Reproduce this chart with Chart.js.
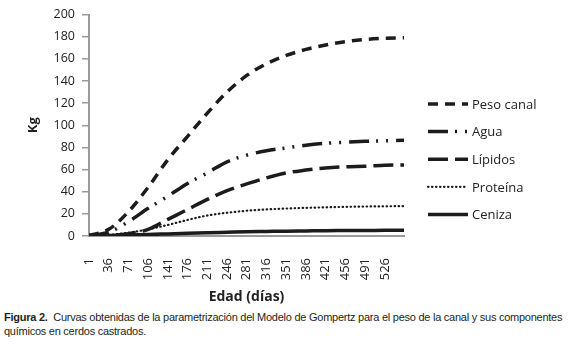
<!DOCTYPE html>
<html>
<head>
<meta charset="utf-8">
<script src="https://cdn.jsdelivr.net/npm/chart.js@4/dist/chart.umd.min.js"></script>
<style>
  body { margin: 0; background: #fff; width: 571px; height: 347px; overflow: hidden; }
  #wrap { position: relative; width: 571px; height: 310px; }
  .caption {
    font-family: "Liberation Sans Narrow", "Liberation Sans", sans-serif;
    font-size: 11px;
    letter-spacing: -0.25px;
    line-height: 14px;
    color: #231f20;
    padding-left: 4px;
    white-space: nowrap;
  }
</style>
</head>
<body>
<div id="wrap"><canvas id="chart"></canvas></div>
<div class="caption"><b>Figura 2.</b>&nbsp; Curvas obtenidas de la parametrización del Modelo de Gompertz para el peso de la canal y sus componentes<br>químicos en cerdos castrados.</div>
<script>
// edad en días y kg estimados por el modelo
const dias = [1, 36, 71, 106, 141, 176, 211, 246, 281, 316, 351, 386, 421, 456, 491, 526, 560];
const ticksDias = [1, 36, 71, 106, 141, 176, 211, 246, 281, 316, 351, 386, 421, 456, 491, 526];
const ticksKg = [0, 20, 40, 60, 80, 100, 120, 140, 160, 180, 200];

const pesoCanal = [0.5, 6, 22, 44, 69, 90, 111, 130, 145, 155.5, 163, 168.5, 172.5, 175.5, 177.5, 178.5, 179];
const agua = [0.3, 3.5, 13, 25, 36, 47.5, 57, 67, 73, 77, 79.5, 82, 83.7, 84.7, 85.5, 86, 86.5];
const lipidos = [0.1, 0.5, 2, 6, 15, 24, 33, 41, 47, 52.5, 57, 59.5, 61.5, 62.5, 63, 63.8, 64.2];
const proteina = [0.2, 1, 3, 6, 10, 14.5, 18.5, 21, 22.8, 24, 24.8, 25.4, 25.9, 26.3, 26.6, 26.8, 27];
const ceniza = [0.1, 0.4, 0.8, 1.3, 1.9, 2.5, 3, 3.4, 3.8, 4.1, 4.4, 4.6, 4.8, 4.9, 5, 5.1, 5.2];

const ink = '#1c1c1c';

function serie(label, values, width, dash, cap) {
    return {
        label: label,
        data: dias.map((d, i) => ({ x: d, y: values[i] })),
        borderColor: ink,
        borderWidth: width,
        borderDash: dash,
        borderCapStyle: cap || 'butt',
        pointRadius: 0,
        fill: false,
        cubicInterpolationMode: 'monotone'
    };
}

// leyenda a la derecha con la muestra de cada tipo de línea
const lineLegend = {
    id: 'lineLegend',
    afterDraw(chart) {
        const ctx = chart.ctx;
        ctx.save();
        chart.data.datasets.forEach((ds, i) => {
            const y = 104 + i * 27.6;
            ctx.beginPath();
            ctx.setLineDash(ds.borderDash || []);
            ctx.lineWidth = ds.borderWidth;
            ctx.lineCap = ds.borderCapStyle;
            ctx.strokeStyle = ds.borderColor;
            ctx.moveTo(428, y);
            ctx.lineTo(468, y);
            ctx.stroke();
            ctx.setLineDash([]);
            ctx.fillStyle = '#222';
            ctx.font = '13px "Open Sans"';
            ctx.textBaseline = 'middle';
            ctx.fillText(ds.label, 472, y + 1);
        });
        ctx.restore();
    }
};

new Chart(document.getElementById('chart'), {
    type: 'line',
    data: {
        datasets: [
            serie('Peso canal', pesoCanal, 3.5, [10, 7]),
            serie('Agua', agua, 3.5, [20, 7, 2, 8, 2, 8]),
            serie('Lípidos', lipidos, 3.5, [20, 7]),
            serie('Proteína', proteina, 2.2, [0.5, 3.5], 'round'),
            serie('Ceniza', ceniza, 3.5, [])
        ]
    },
    options: {
        responsive: true,
        maintainAspectRatio: false,
        animation: false,
        layout: { padding: { top: 14, right: 167, left: 0, bottom: 0 } },
        plugins: {
            legend: { display: false },
            tooltip: { enabled: false }
        },
        scales: {
            x: {
                type: 'linear',
                min: 1,
                max: 560,
                afterBuildTicks: s => { s.ticks = ticksDias.map(v => ({ value: v })); },
                afterFit: s => { s.height = 74; },
                grid: { display: false },
                border: { color: '#9a9a9a', width: 2 },
                ticks: {
                    autoSkip: false,
                    minRotation: 90,
                    maxRotation: 90,
                    padding: 14,
                    color: '#222',
                    font: { family: 'Open Sans', size: 13 }
                },
                title: {
                    display: true,
                    text: 'Edad (días)',
                    color: '#222',
                    font: { family: 'Open Sans', size: 14, weight: 'bold' },
                    padding: { top: 0, bottom: 4.6 }
                }
            },
            y: {
                min: 0,
                max: 200,
                afterBuildTicks: s => { s.ticks = ticksKg.map(v => ({ value: v })); },
                afterFit: s => { s.width = 89; },
                grid: { drawOnChartArea: false, drawTicks: true, tickLength: 7, color: '#9a9a9a', lineWidth: 1.5 },
                border: { color: '#9a9a9a', width: 2 },
                ticks: {
                    padding: 7,
                    color: '#222',
                    font: { family: 'Open Sans', size: 12.5 }
                },
                title: {
                    display: true,
                    text: 'Kg',
                    color: '#222',
                    font: { family: 'Open Sans', size: 13, weight: 'bold' },
                    padding: { top: 25, bottom: 0 }
                }
            }
        }
    },
    plugins: [lineLegend]
});
</script>
</body>
</html>
